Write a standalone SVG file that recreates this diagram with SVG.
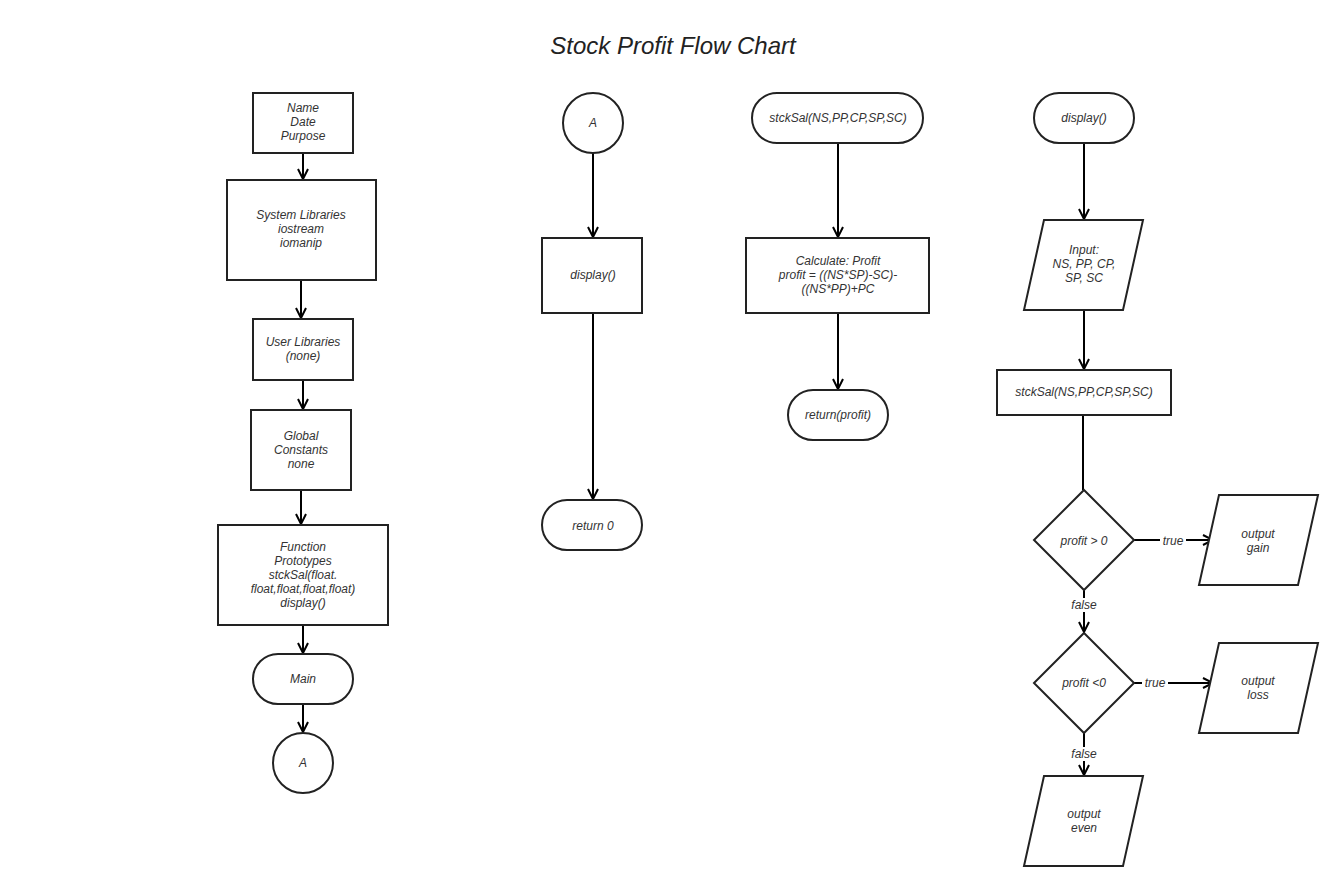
<svg xmlns="http://www.w3.org/2000/svg" width="1330" height="886" viewBox="0 0 1330 886">
<defs>
<style>
.s{fill:#fff;stroke:#222;stroke-width:2}
.t{font-family:"Liberation Sans",Arial,sans-serif;font-style:italic;font-size:12px;fill:#333;text-anchor:middle}
.c{fill:none;stroke:#000;stroke-width:2}
.lb{fill:#fff;stroke:none}
</style>
<marker id="ah" viewBox="0 0 12 12" refX="11" refY="6" markerWidth="12" markerHeight="12" markerUnits="userSpaceOnUse" orient="auto">
<path d="M1,1 L11,6 L1,11" fill="none" stroke="#000" stroke-width="2"/>
</marker>
</defs>
<rect width="1330" height="886" fill="#fff"/>
<text x="673" y="54" style="font-family:'Liberation Sans',Arial,sans-serif;font-style:italic;font-size:24px;fill:#222;text-anchor:middle">Stock Profit Flow Chart</text>

<g id="connectors">
<line class="c" x1="303" y1="153" x2="303" y2="179" marker-end="url(#ah)"/>
<line class="c" x1="301" y1="280" x2="301" y2="318" marker-end="url(#ah)"/>
<line class="c" x1="303" y1="380" x2="303" y2="409" marker-end="url(#ah)"/>
<line class="c" x1="301" y1="490" x2="301" y2="524" marker-end="url(#ah)"/>
<line class="c" x1="303" y1="625" x2="303" y2="653" marker-end="url(#ah)"/>
<line class="c" x1="303" y1="704" x2="303" y2="732" marker-end="url(#ah)"/>
<line class="c" x1="593" y1="153" x2="593" y2="237" marker-end="url(#ah)"/>
<line class="c" x1="593" y1="313" x2="593" y2="499" marker-end="url(#ah)"/>
<line class="c" x1="838" y1="143" x2="838" y2="237" marker-end="url(#ah)"/>
<line class="c" x1="838" y1="313" x2="838" y2="389" marker-end="url(#ah)"/>
<line class="c" x1="1084" y1="143" x2="1084" y2="219" marker-end="url(#ah)"/>
<line class="c" x1="1084" y1="310" x2="1084" y2="369" marker-end="url(#ah)"/>
<line class="c" x1="1083" y1="416" x2="1083" y2="490"/>
<line class="c" x1="1134" y1="540" x2="1213" y2="540" marker-end="url(#ah)"/>
<rect class="lb" x="1160" y="533" width="26" height="14"/>
<text class="t" x="1173" y="545">true</text>
<line class="c" x1="1084" y1="590" x2="1084" y2="632" marker-end="url(#ah)"/>
<rect class="lb" x="1068" y="598" width="32" height="14"/>
<text class="t" x="1084" y="609">false</text>
<line class="c" x1="1134" y1="683" x2="1213" y2="683" marker-end="url(#ah)"/>
<rect class="lb" x="1142" y="676" width="26" height="14"/>
<text class="t" x="1155" y="687">true</text>
<line class="c" x1="1084" y1="733" x2="1084" y2="775" marker-end="url(#ah)"/>
<rect class="lb" x="1068" y="747" width="32" height="14"/>
<text class="t" x="1084" y="758">false</text>
</g>

<g id="n-header">
<rect class="s" x="253" y="93" width="100" height="60"/>
<text class="t" x="303" y="112">Name</text>
<text class="t" x="303" y="126">Date</text>
<text class="t" x="303" y="140">Purpose</text>
</g>
<g id="n-syslib">
<rect class="s" x="227" y="180" width="149" height="100"/>
<text class="t" x="301" y="219">System Libraries</text>
<text class="t" x="301" y="233">iostream</text>
<text class="t" x="301" y="247">iomanip</text>
</g>
<g id="n-userlib">
<rect class="s" x="253" y="319" width="100" height="61"/>
<text class="t" x="303" y="346">User Libraries</text>
<text class="t" x="303" y="360">(none)</text>
</g>
<g id="n-global">
<rect class="s" x="251" y="410" width="100" height="80"/>
<text class="t" x="301" y="440">Global</text>
<text class="t" x="301" y="454">Constants</text>
<text class="t" x="301" y="468">none</text>
</g>
<g id="n-proto">
<rect class="s" x="218" y="525" width="170" height="100"/>
<text class="t" x="303" y="551">Function</text>
<text class="t" x="303" y="565">Prototypes</text>
<text class="t" x="303" y="579">stckSal(float.</text>
<text class="t" x="303" y="593">float,float,float,float)</text>
<text class="t" x="303" y="607">display()</text>
</g>
<g id="n-main">
<rect class="s" x="253" y="654" width="100" height="50" rx="25"/>
<text class="t" x="303" y="683">Main</text>
</g>
<g id="n-a1">
<circle class="s" cx="303" cy="763" r="30"/>
<text class="t" x="303" y="767">A</text>
</g>

<g id="n-a2">
<circle class="s" cx="593" cy="123" r="30"/>
<text class="t" x="593" y="127">A</text>
</g>
<g id="n-display-call">
<rect class="s" x="542" y="238" width="100" height="75"/>
<text class="t" x="593" y="279">display()</text>
</g>
<g id="n-return0">
<rect class="s" x="542" y="500" width="100" height="50" rx="25"/>
<text class="t" x="593" y="530">return 0</text>
</g>

<g id="n-stcksal-start">
<rect class="s" x="752" y="93" width="171" height="50" rx="25"/>
<text class="t" x="838" y="122">stckSal(NS,PP,CP,SP,SC)</text>
</g>
<g id="n-calc">
<rect class="s" x="746" y="238" width="183" height="75"/>
<text class="t" x="838" y="265">Calculate: Profit</text>
<text class="t" x="838" y="279">profit = ((NS*SP)-SC)-</text>
<text class="t" x="838" y="293">((NS*PP)+PC</text>
</g>
<g id="n-return-profit">
<rect class="s" x="788" y="390" width="100" height="50" rx="25"/>
<text class="t" x="838" y="419">return(profit)</text>
</g>

<g id="n-display-start">
<rect class="s" x="1034" y="93" width="100" height="50" rx="25"/>
<text class="t" x="1084" y="122">display()</text>
</g>
<g id="n-input">
<polygon class="s" points="1044,220 1143,220 1123,310 1024,310"/>
<text class="t" x="1084" y="254">Input:</text>
<text class="t" x="1084" y="268">NS, PP, CP,</text>
<text class="t" x="1084" y="282">SP, SC</text>
</g>
<g id="n-stcksal-call">
<rect class="s" x="997" y="370" width="174" height="45"/>
<text class="t" x="1084" y="396">stckSal(NS,PP,CP,SP,SC)</text>
</g>
<g id="n-dec1">
<polygon class="s" points="1084,490 1134,540 1084,590 1034,540"/>
<text class="t" x="1084" y="545">profit &gt; 0</text>
</g>
<g id="n-gain">
<polygon class="s" points="1219,495 1318,495 1298,585 1199,585"/>
<text class="t" x="1258" y="538">output</text>
<text class="t" x="1258" y="552">gain</text>
</g>
<g id="n-dec2">
<polygon class="s" points="1084,633 1134,683 1084,733 1034,683"/>
<text class="t" x="1084" y="687">profit &lt;0</text>
</g>
<g id="n-loss">
<polygon class="s" points="1219,643 1318,643 1298,733 1199,733"/>
<text class="t" x="1258" y="685">output</text>
<text class="t" x="1258" y="699">loss</text>
</g>
<g id="n-even">
<polygon class="s" points="1044,776 1143,776 1123,866 1024,866"/>
<text class="t" x="1084" y="818">output</text>
<text class="t" x="1084" y="832">even</text>
</g>
</svg>
